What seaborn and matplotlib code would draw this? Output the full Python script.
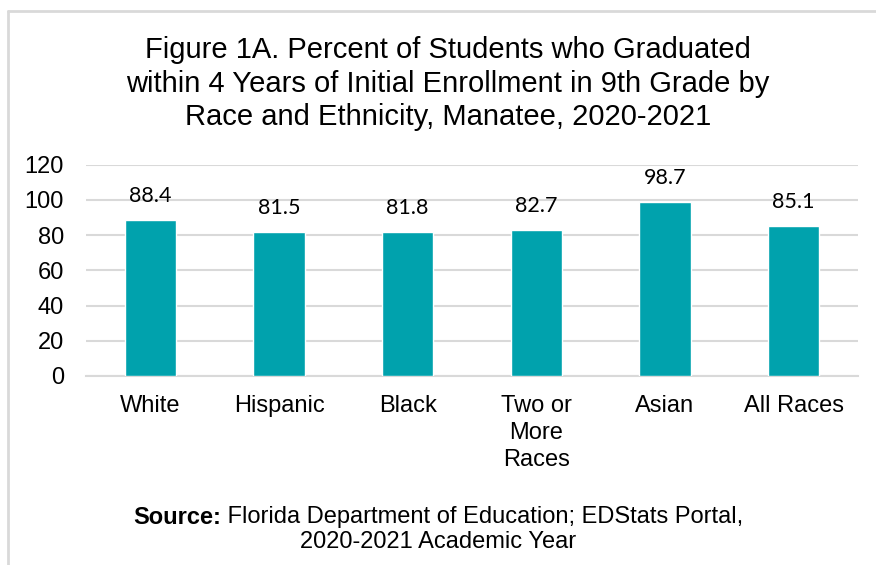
import matplotlib
matplotlib.use("Agg")
import matplotlib.pyplot as plt
import seaborn as sns
import pandas as pd
from matplotlib.lines import Line2D

categories = ["White", "Hispanic", "Black", "Two or\nMore\nRaces", "Asian", "All Races"]
grad_rates = [88.4, 81.5, 81.8, 82.7, 98.7, 85.1]
y_ticks = [0, 20, 40, 60, 80, 100, 120]

title = ("Figure 1A. Percent of Students who Graduated\n"
         "within 4 Years of Initial Enrollment in 9th Grade by\n"
         "Race and Ethnicity, Manatee, 2020-2021")

sns.set_theme(style="white")
plt.rcParams["font.family"] = ["Liberation Sans", "DejaVu Sans"]
plt.rcParams["text.color"] = "black"

df = pd.DataFrame({"group": categories, "rate": grad_rates})

fig = plt.figure(figsize=(8.76, 5.65), dpi=100)
ax = fig.add_axes([86 / 876, 1 - 376 / 565, (858 - 86) / 876, (376 - 164.5) / 565])

bar_color = "#00A2AD"
sns.barplot(data=df, x="group", y="rate", color=bar_color, width=0.4,
            saturation=1, ax=ax, zorder=3)

ax.set_ylim(0, 120)
ax.set_yticks(y_ticks)
ax.set_xlim(-0.5, len(categories) - 0.5)
ax.set_xlabel("")
ax.set_ylabel("")

grid_color = "#D9D9D9"
ax.yaxis.grid(True, color=grid_color, linewidth=1.5, zorder=0)
ax.xaxis.grid(False)
for side in ["top", "right", "left"]:
    ax.spines[side].set_visible(False)
ax.spines["bottom"].set_color(grid_color)
ax.spines["bottom"].set_linewidth(1.5)

ax.tick_params(axis="y", length=0, pad=16, labelsize=17, labelcolor="black")
ax.tick_params(axis="x", length=0, pad=14, labelsize=17, labelcolor="black")
for lbl in ax.get_xticklabels():
    lbl.set_linespacing(1.28)
    lbl.set_verticalalignment("top")

# value labels above each bar
for i, v in enumerate(grad_rates):
    ax.annotate(f"{v:.1f}", xy=(i, v), xytext=(0, 13), textcoords="offset points",
                ha="center", va="baseline", fontsize=15.5, family=["Lato", "DejaVu Sans"],
                color="black")

fig.text(448 / 876, 1 - 83.5 / 565, title, ha="center", va="center", fontsize=21,
         linespacing=1.27, color="black")

src_y = 1 - 517 / 565
t1 = fig.text(0.0, src_y, "Source:", fontweight="bold", fontsize=17, va="center", ha="left")
t2 = fig.text(0.0, src_y, " Florida Department of Education; EDStats Portal,", fontsize=17,
              va="center", ha="left")
fig.canvas.draw()
r = fig.canvas.get_renderer()
w1 = t1.get_window_extent(r).width
w2 = t2.get_window_extent(r).width
total = w1 + w2
x0 = 438 - total / 2
t1.set_x(x0 / 876)
t2.set_x((x0 + w1) / 876)
fig.text(438 / 876, 1 - 542 / 565, "2020-2021 Academic Year", fontsize=17,
         ha="center", va="center")

# chart frame
frame_color = "#D9D9D9"
fig.add_artist(Line2D([7.5 / 876, 1.0], [1 - 10.5 / 565] * 2, color=frame_color,
                      linewidth=2, transform=fig.transFigure))
fig.add_artist(Line2D([7.5 / 876] * 2, [0.0, 1 - 10.5 / 565], color=frame_color,
                      linewidth=2, transform=fig.transFigure))

fig.savefig("out.png", dpi=100)
